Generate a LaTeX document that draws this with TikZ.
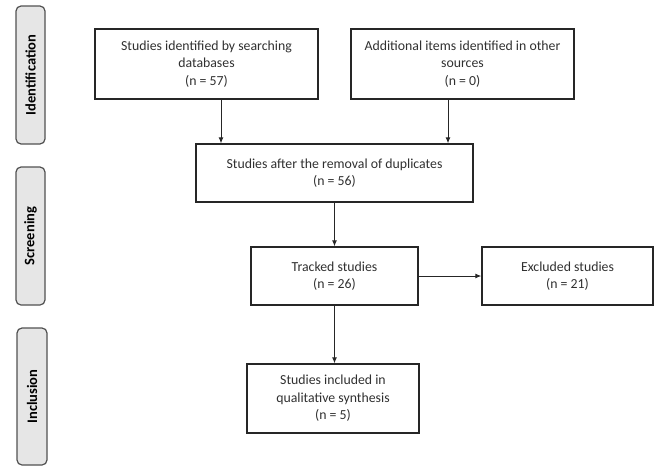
\documentclass[tikz,border=0pt]{standalone}
\usepackage{fontspec}
\setmainfont{Carlito}
\usetikzlibrary{calc, arrows.meta}

\begin{document}
\begin{tikzpicture}[x=1pt, y=-1pt]
    % Define colours
    \definecolor{borderColour}{HTML}{262626}
    \definecolor{textColour}{HTML}{303030}
    \definecolor{phaseColour}{HTML}{E6E6E6}

    % Define styles
    \tikzset{
        stepbox/.style={draw=borderColour, line width=1.4pt, align=center, text=textColour,
            font=\fontsize{13.8}{17.5}\selectfont, inner sep=0pt},
        phasebox/.style={draw=borderColour!80, fill=phaseColour, line width=1.2pt, rounded corners=5pt,
            text=black, font=\fontsize{14.5}{16}\selectfont\bfseries, rotate=90, inner sep=0pt},
        arw/.style={draw=borderColour, line width=0.9pt, -{Latex[length=6pt, width=5pt]}}
    }

    % Fix the page size
    \useasboundingbox (0,0) rectangle (654,466);

    % Draw the phase labels
    \node[phasebox, minimum width=138pt, minimum height=29pt] (identification) at (30.5,75) {Identification};
    \node[phasebox, minimum width=138pt, minimum height=29pt] (screening) at (30.5,236) {Screening};
    \node[phasebox, minimum width=137pt, minimum height=30pt] (inclusion) at (32,396.5) {Inclusion};

    % Draw the study boxes
    \node[stepbox, minimum width=223pt, minimum height=70pt] (searched) at (206.5,64)
        {Studies identified by searching\\databases\\(n = 57)};
    \node[stepbox, minimum width=223pt, minimum height=70pt] (additional) at (462.5,64)
        {Additional items identified in other\\sources\\(n = 0)};
    \node[stepbox, minimum width=277pt, minimum height=58pt] (duplicates) at (334.5,173)
        {Studies after the removal of duplicates\\(n = 56)};
    \node[stepbox, minimum width=167pt, minimum height=58pt] (tracked) at (334.5,276)
        {Tracked studies\\(n = 26)};
    \node[stepbox, minimum width=171pt, minimum height=58pt] (excluded) at (567.5,276)
        {Excluded studies\\(n = 21)};
    \node[stepbox, minimum width=172pt, minimum height=69pt] (included) at (333,398.5)
        {Studies included in\\qualitative synthesis\\(n = 5)};

    % Draw the arrows
    \coordinate (searchedOut) at ([xshift=14.5pt]searched.south);
    \coordinate (additionalOut) at ([xshift=-14.5pt]additional.south);
    \draw[arw] (searchedOut) -- (searchedOut |- duplicates.north);
    \draw[arw] (additionalOut) -- (additionalOut |- duplicates.north);
    \draw[arw] (duplicates) -- (tracked);
    \draw[arw] (tracked) -- (excluded);
    \draw[arw] (tracked.south) -- (tracked.south |- included.north);

\end{tikzpicture}
\end{document}
